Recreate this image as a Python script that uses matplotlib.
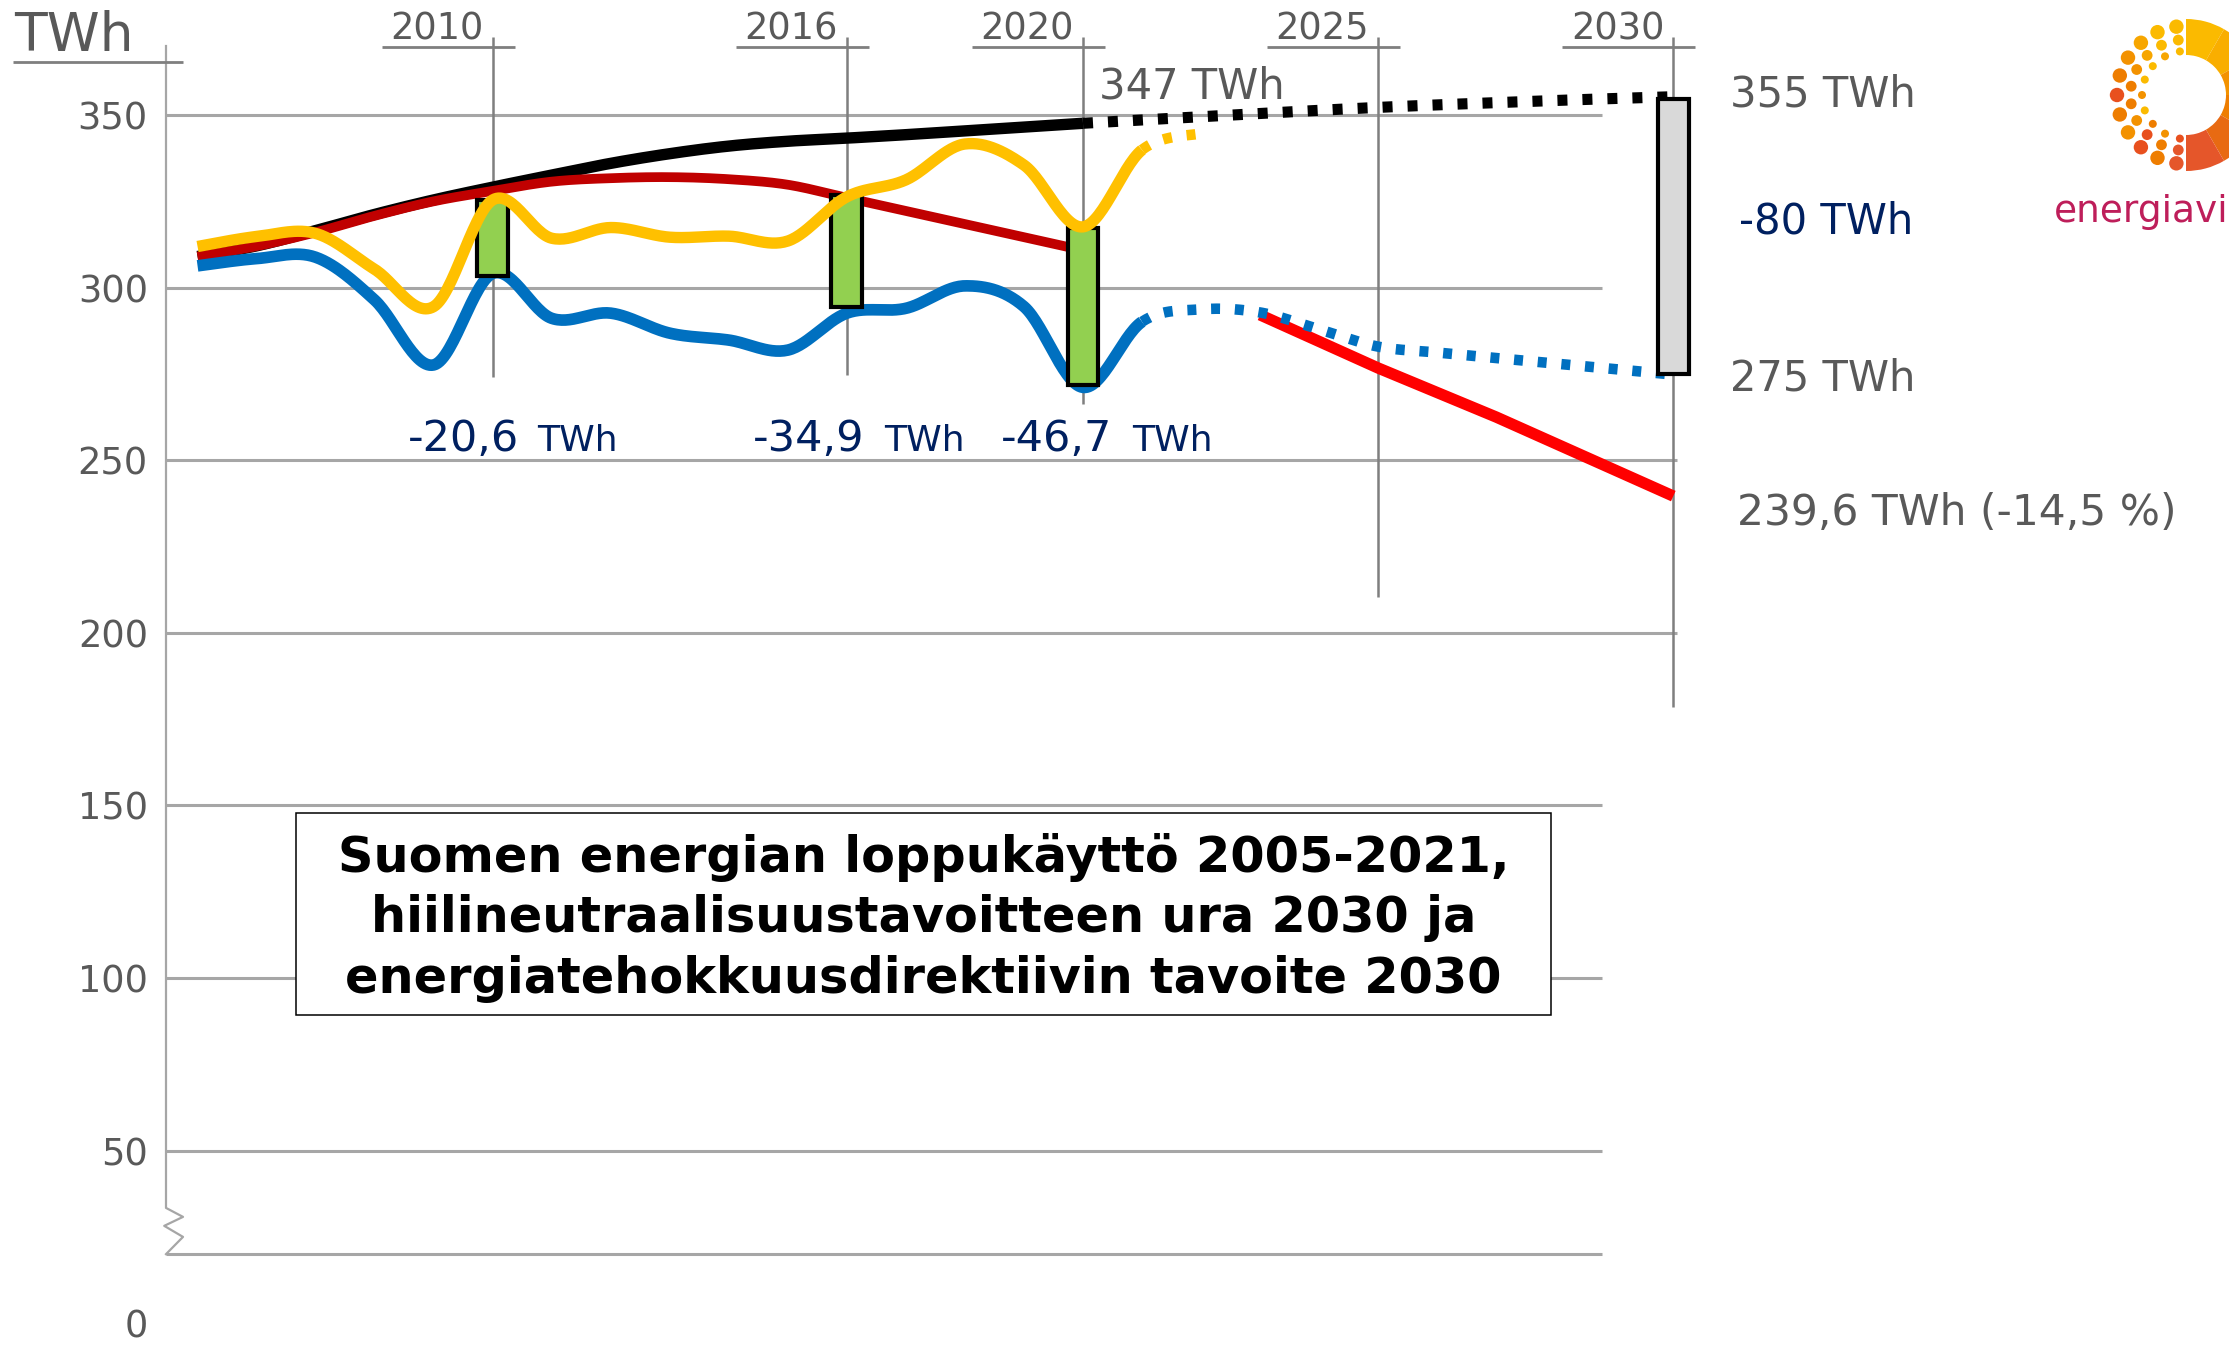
import numpy as np
import matplotlib
matplotlib.use("Agg")
import matplotlib.pyplot as plt
from matplotlib.patches import Rectangle, Wedge, Circle

# ---------------- data ----------------
years_actual = list(range(2005, 2022))
blue_actual = [306.3, 308.4, 308.8, 296.4, 277.6, 304.1, 291.1, 292.6, 286.8,
               284.8, 281.9, 292.6, 294.0, 300.5, 294.5, 271.1, 290.1]
years_blue_fc = list(range(2022, 2031))
blue_forecast = [293.7, 292.8, 287.9, 282.9, 281.2, 279.6, 278.0, 276.4, 274.8]

years_yellow = list(range(2005, 2023))
yellow_vals = [311.9, 314.8, 315.7, 305.3, 294.5, 325.4, 314.3, 317.4, 314.6,
               314.9, 313.5, 326.3, 331.2, 341.6, 335.5, 317.6, 339.9, 344.7]

years_black = list(range(2005, 2021))
black_vals = [309.0, 312.1, 316.5, 321.2, 325.4, 329.1, 332.6, 336.0, 338.8,
              341.0, 342.4, 343.3, 344.3, 345.4, 346.5, 347.6]
years_black_fc = [2020, 2022, 2025, 2028, 2030]
black_fc = [347.6, 349.5, 352.2, 354.2, 355.3]

years_red = list(range(2005, 2021))
red_vals = [309.0, 312.0, 316.0, 320.8, 325.0, 328.0, 330.7, 331.7, 332.0,
            331.4, 329.8, 326.0, 322.2, 318.4, 314.6, 310.8]

years_target = [2023, 2025, 2027, 2030]
target_vals = [292.1, 276.7, 262.5, 239.6]

bar_years = [2010, 2016, 2020]
bar_bottoms = [303.3, 294.3, 271.9]
bar_tops = [325.4, 326.9, 317.2]
bar_labels = ["-20,6", "-34,9", "-46,7"]

bar2030_year = 2030
bar2030_bottom = 275.0
bar2030_top = 354.5

year_ticks = [2010, 2016, 2020, 2025, 2030]
year_line_bottoms = [274.2, 274.7, 266.3, 210.4, 178.6]
y_ticks = [0, 50, 100, 150, 200, 250, 300, 350]

title_lines = ["Suomen energian loppukäyttö 2005-2021,",
               "hiilineutraalisuustavoitteen ura 2030 ja",
               "energiatehokkuusdirektiivin tavoite 2030"]

# ---------------- colours ----------------
BLUE = "#0070C0"
YELLOW = "#FFC000"
DARKRED = "#C00000"
RED = "#FF0000"
GREEN = "#92D050"
GREYBAR = "#D9D9D9"
GRID = "#A6A6A6"
VLINE = "#7F7F7F"
TXT = "#595959"
NAVY = "#002060"

W, H = 2229, 1346
fig = plt.figure(figsize=(W / 100, H / 100), dpi=100)
fig.patch.set_facecolor("white")

# pixel <-> data mapping of the reference
PX_PER_YEAR = 59.03
X2010 = 492.7
Y350 = 115.0
PX_PER_TWH = 3.452


def X(px):
    return 2010 + (px - X2010) / PX_PER_YEAR


def Y(py):
    return 350 - (py - Y350) / PX_PER_TWH


axis_px = 166
ax = fig.add_axes([axis_px / W, 0, 1 - axis_px / W, 1])
ax.set_xlim(X(axis_px), X(W))
ax.set_ylim(Y(H), Y(0))
for s in ax.spines.values():
    s.set_visible(False)
ax.set_xticks([])
ax.set_yticks(y_ticks)
ax.set_yticklabels([str(v) for v in y_ticks])
ax.tick_params(axis="y", length=0, pad=13, labelsize=26.5, labelcolor=TXT)
ax.set_facecolor("none")

x_axis = X(axis_px)
x_grid_end = X(1602)


def smooth(xs, ys, n=30):
    P = np.column_stack([xs, ys]).astype(float)
    Pe = np.vstack([P[0], P, P[-1]])
    out = []
    for i in range(1, len(Pe) - 2):
        p0, p1, p2, p3 = Pe[i - 1], Pe[i], Pe[i + 1], Pe[i + 2]
        c1 = p1 + (p2 - p0) / 6.0
        c2 = p2 - (p3 - p1) / 6.0
        t = np.linspace(0, 1, n, endpoint=False)[:, None]
        pts = ((1 - t) ** 3) * p1 + 3 * ((1 - t) ** 2) * t * c1 + \
            3 * (1 - t) * t ** 2 * c2 + t ** 3 * p2
        out.append(pts)
    out.append(P[-1:])
    return np.vstack(out)


# ---------------- grid ----------------
for v in y_ticks[1:]:
    xe = X(1677) if v in (200, 250) else x_grid_end
    ax.plot([x_axis, xe], [v, v], color=GRID, lw=2.2, zorder=1,
            solid_capstyle="butt")
ax.plot([x_axis, x_grid_end], [20, 20], color=GRID, lw=2.2, zorder=1,
        solid_capstyle="butt")

# y axis line with break marker
zz = 17 / PX_PER_YEAR
ax.plot([x_axis, x_axis, x_axis + zz, x_axis - 0.03, x_axis + zz, x_axis],
        [Y(46), 33.4, 30.8, 28.2, 25.0, 20.0], color=GRID, lw=1.6, zorder=1,
        clip_on=False)
# TWh unit label with underline
ax.plot([X(13), X(183)], [Y(62), Y(62)], color=VLINE, lw=2.0, clip_on=False,
        solid_capstyle="butt")
ax.text(X(14), Y(51), "TWh", fontsize=38.5, color=TXT, ha="left",
        va="baseline", clip_on=False)

# year lines, labels, underlines
for yr, yb in zip(year_ticks, year_line_bottoms):
    ax.plot([yr, yr], [Y(37), yb], color=VLINE, lw=1.8, zorder=2,
            solid_capstyle="butt")
    ax.plot([yr - 111 / PX_PER_YEAR, yr + 22 / PX_PER_YEAR], [Y(47), Y(47)],
            color=VLINE, lw=2.0, zorder=2, solid_capstyle="butt")
    ax.text(yr - 9 / PX_PER_YEAR, Y(39), str(yr), fontsize=26.5, color=TXT,
            ha="right", va="baseline")

# ---------------- series ----------------
bx = smooth(years_black, black_vals)
ax.plot(bx[:, 0], bx[:, 1], color="black", lw=8.2, zorder=3,
        solid_capstyle="butt")
bfx = smooth(years_black_fc, black_fc)
ax.plot(bfx[:, 0], bfx[:, 1], color="black", lw=8.0, zorder=3,
        dashes=(0.9, 1.35), dash_capstyle="butt")

rx = smooth(years_red, red_vals)
ax.plot(rx[:, 0], rx[:, 1], color=DARKRED, lw=7.0, zorder=4,
        solid_capstyle="butt")

ax.plot(years_target, target_vals, color=RED, lw=8.2, zorder=4,
        solid_capstyle="butt")

blue_all = smooth(years_actual + years_blue_fc, blue_actual + blue_forecast)
m1 = blue_all[:, 0] <= 2021 + 1e-9
m2 = blue_all[:, 0] >= 2021 - 1e-9
ax.plot(blue_all[m1, 0], blue_all[m1, 1], color=BLUE, lw=8.4, zorder=5,
        solid_capstyle="butt", solid_joinstyle="round")
ax.plot(blue_all[m2, 0], blue_all[m2, 1], color=BLUE, lw=7.6, zorder=5,
        dashes=(0.85, 1.4), dash_capstyle="butt")

yel = smooth(years_yellow, yellow_vals)
n1 = yel[:, 0] <= 2021 + 1e-9
n2 = yel[:, 0] >= 2021 - 1e-9
ax.plot(yel[n1, 0], yel[n1, 1], color=YELLOW, lw=8.2, zorder=7,
        solid_capstyle="butt", solid_joinstyle="round")
ax.plot(yel[n2, 0], yel[n2, 1], color=YELLOW, lw=7.6, zorder=7,
        dashes=(0.85, 1.4), dash_capstyle="butt")

# ---------------- bars ----------------
bw = 31 / PX_PER_YEAR
ax.bar(bar_years, np.array(bar_tops) - np.array(bar_bottoms),
       bottom=bar_bottoms, width=bw, color=GREEN, edgecolor="black",
       linewidth=3.0, zorder=6)
ax.bar([bar2030_year], [bar2030_top - bar2030_bottom], bottom=[bar2030_bottom],
       width=bw, color=GREYBAR, edgecolor="black", linewidth=3.0, zorder=6)

# ---------------- labels ----------------
for lab, lpx, rpx in zip(bar_labels, [408, 753, 1001], [618, 965, 1213]):
    ax.text(X(lpx), Y(451), lab, fontsize=31, color=NAVY, ha="left",
            va="baseline")
    ax.text(X(rpx), Y(451), "TWh", fontsize=26, color=NAVY, ha="right",
            va="baseline")

ax.text(X(1099), Y(99), "347 TWh", fontsize=30, color=TXT, va="baseline")
ax.text(X(1730), Y(106.5), "355 TWh", fontsize=30, color=TXT, va="baseline")
ax.text(X(1739), Y(233.5), "-80 TWh", fontsize=30, color=NAVY, va="baseline")
ax.text(X(1730), Y(391), "275 TWh", fontsize=30, color=TXT, va="baseline")
ax.text(X(1737), Y(525), "239,6 TWh (-14,5 %)", fontsize=30.5, color=TXT,
        va="baseline")

# title box
ax.add_patch(Rectangle((X(296), Y(1015)), X(1551) - X(296), Y(813) - Y(1015),
                       facecolor="white", edgecolor="black", lw=1.1, zorder=8))
for line, by in zip(title_lines, [872, 932, 993]):
    ax.text(X(923.5), Y(by), line, fontsize=35.6, fontweight="bold",
            color="black", ha="center", va="baseline", zorder=9)

# ---------------- logo ----------------
lg = fig.add_axes([2030 / W, 1 - 250 / H, 260 / W, 250 / H])
lg.set_xlim(2030, 2290)
lg.set_ylim(250, 0)
lg.axis("off")
cx, cy = 2186, 95
seg_cols = ["#FBBA00", "#F9AE00", "#F39200", "#EE7D00", "#E86A12", "#E5562A"]
for i, c in enumerate(seg_cols):
    a1 = 90 - i * 30
    lg.add_patch(Wedge((cx, cy), 76, -(a1), -(a1 - 30), width=36, color=c,
                       lw=0))
rings = [(69, 11, 7.2), (55.5, 10, 5.4), (44, 9, 4.0)]
dot_cols = ["#FBBA00", "#FBBA00", "#F7A600", "#F39200", "#EE7D00", "#E8501E",
            "#EE7D00", "#F39200", "#E8501E", "#EE7D00", "#E5562A"]
for r, n, s in rings:
    angs = np.linspace(98, 262, n)
    for k, a in enumerate(angs):
        col = dot_cols[int(round(k * (len(dot_cols) - 1) / (n - 1)))]
        if r < 50:
            col = ["#FBBA00", "#F7A600", "#FBBA00", "#FBBA00", "#F39200",
                   "#FBBA00", "#EE7D00", "#F39200", "#E8501E"][k % 9]
        px = cx + r * np.cos(np.radians(a))
        py = cy - r * np.sin(np.radians(a))
        lg.add_patch(Circle((px, py), s, color=col, lw=0))
lg.text(2054, 222, "energiavirasto", fontsize=27, color="#BE1E5A",
        ha="left", va="baseline", clip_on=False)

fig.savefig("out.png", dpi=100)
